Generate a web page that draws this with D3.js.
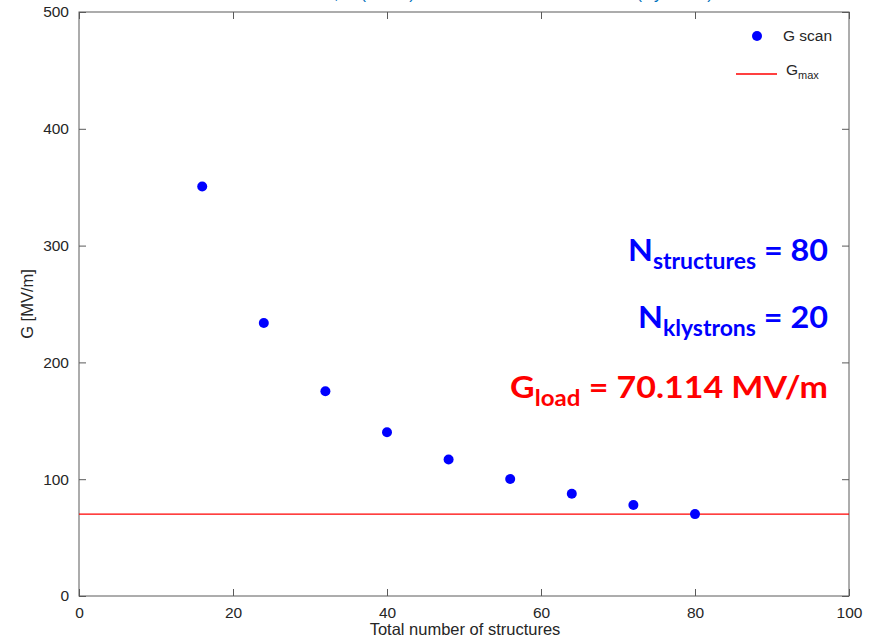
<!DOCTYPE html>
<html><head><meta charset="utf-8">
<script src="https://cdn.jsdelivr.net/npm/d3@7"></script>
<style>body{margin:0;background:#fff}svg{display:block}</style>
</head><body>
<script>
const structures = [16, 24, 32, 40, 48, 56, 64, 72, 80];
const gScan = [350.6, 233.7, 175.3, 140.2, 116.9, 100.2, 87.6, 77.9, 70.114];
const gMax = 70.114;
const xTicks = [0, 20, 40, 60, 80, 100];
const yTicks = [0, 100, 200, 300, 400, 500];

const W = 873, H = 643;
const m = {l: 79, r: 849, t: 12, b: 596};
const svg = d3.select("body").append("svg").attr("width", W).attr("height", H);
const x = d3.scaleLinear().domain([0, 100]).range([m.l, m.r]);
const y = d3.scaleLinear().domain([0, 500]).range([m.b, m.t]);
const axCol = "#5a5a5a", txtCol = "#262626";
const font = "'Liberation Sans', Arial, sans-serif";

// clipped title at top (as in the reference)
svg.append("text").attr("x", 472).attr("y", -1).attr("text-anchor", "middle")
  .attr("font-family", font).attr("font-size", 16.5).attr("fill", "#0072BD")
  .text("Gradient scan, G (MV/m) vs. total number of structures (klystrons)");

function styleAxis(g){
  g.select(".domain").remove();
  g.selectAll(".tick line").attr("stroke", axCol);
  g.selectAll(".tick text").attr("fill", txtCol).attr("font-family", font).attr("font-size", 15.5);
}
const tl = 7;
svg.append("g").attr("transform", `translate(0,${m.b})`)
  .call(d3.axisBottom(x).tickValues(xTicks).tickSizeInner(-tl).tickSizeOuter(0).tickPadding(11))
  .call(styleAxis);
svg.append("g").attr("transform", `translate(0,${m.t})`)
  .call(d3.axisTop(x).tickValues(xTicks).tickSizeInner(-tl).tickSizeOuter(0).tickFormat(""))
  .call(styleAxis);
svg.append("g").attr("transform", `translate(${m.l},0)`)
  .call(d3.axisLeft(y).tickValues(yTicks).tickSizeInner(-tl).tickSizeOuter(0).tickPadding(10))
  .call(styleAxis);
svg.append("g").attr("transform", `translate(${m.r},0)`)
  .call(d3.axisRight(y).tickValues(yTicks).tickSizeInner(-tl).tickSizeOuter(0).tickFormat(""))
  .call(styleAxis);
svg.append("rect").attr("x", m.l).attr("y", m.t).attr("width", m.r - m.l).attr("height", m.b - m.t)
  .attr("fill", "none").attr("stroke", axCol).attr("stroke-width", 1);

// axis labels
svg.append("text").attr("x", (m.l + m.r) / 2 + 1).attr("y", 635).attr("text-anchor", "middle")
  .attr("font-family", font).attr("font-size", 16.5).attr("fill", txtCol).text("Total number of structures");
svg.append("text").attr("transform", `translate(33,${(m.t + m.b) / 2}) rotate(-90)`).attr("text-anchor", "middle")
  .attr("font-family", font).attr("font-size", 16.5).attr("fill", txtCol).text("G [MV/m]");

// Gmax line
svg.append("line").attr("x1", x(0)).attr("x2", x(100)).attr("y1", y(gMax)).attr("y2", y(gMax))
  .attr("stroke", "#ff0000").attr("stroke-width", 1.3);

// points
svg.selectAll("circle.pt").data(structures.map((s, i) => [s, gScan[i]])).join("circle")
  .attr("class", "pt").attr("cx", d => x(d[0])).attr("cy", d => y(d[1])).attr("r", 5).attr("fill", "#0000ff");

// legend
svg.append("circle").attr("cx", 757).attr("cy", 36).attr("r", 5).attr("fill", "#0000ff");
svg.append("text").attr("x", 783).attr("y", 41).attr("font-family", font).attr("font-size", 15.5).attr("fill", txtCol).text("G scan");
svg.append("line").attr("x1", 736).attr("x2", 777).attr("y1", 74).attr("y2", 74).attr("stroke", "#ff0000").attr("stroke-width", 1.3);
const lg = svg.append("text").attr("x", 786).attr("y", 75).attr("font-family", font).attr("font-size", 15.5).attr("fill", txtCol);
lg.append("tspan").text("G");
lg.append("tspan").attr("dy", 4).attr("font-size", 11).text("max");

// annotations
const afont = "Lato, 'Open Sans', sans-serif";
function anno(yb, main, sub, rest, col, len){
  const t = svg.append("text").attr("x", 828).attr("y", yb).attr("text-anchor", "end")
    .attr("font-family", afont).attr("font-weight", "bold").attr("font-size", 31).attr("fill", col)
    .attr("textLength", len).attr("lengthAdjust", "spacingAndGlyphs");
  t.append("tspan").text(main);
  t.append("tspan").attr("dy", 8).attr("font-size", 22).text(sub);
  t.append("tspan").attr("dy", -8).text(" " + rest);
}
anno(261, "N", "structures", "= 80", "#0000ff", 200);
anno(328, "N", "klystrons", "= 20", "#0000ff", 190);
anno(398, "G", "load", "= " + gMax + " MV/m", "#ff0000", 318);
</script>
</body></html>
